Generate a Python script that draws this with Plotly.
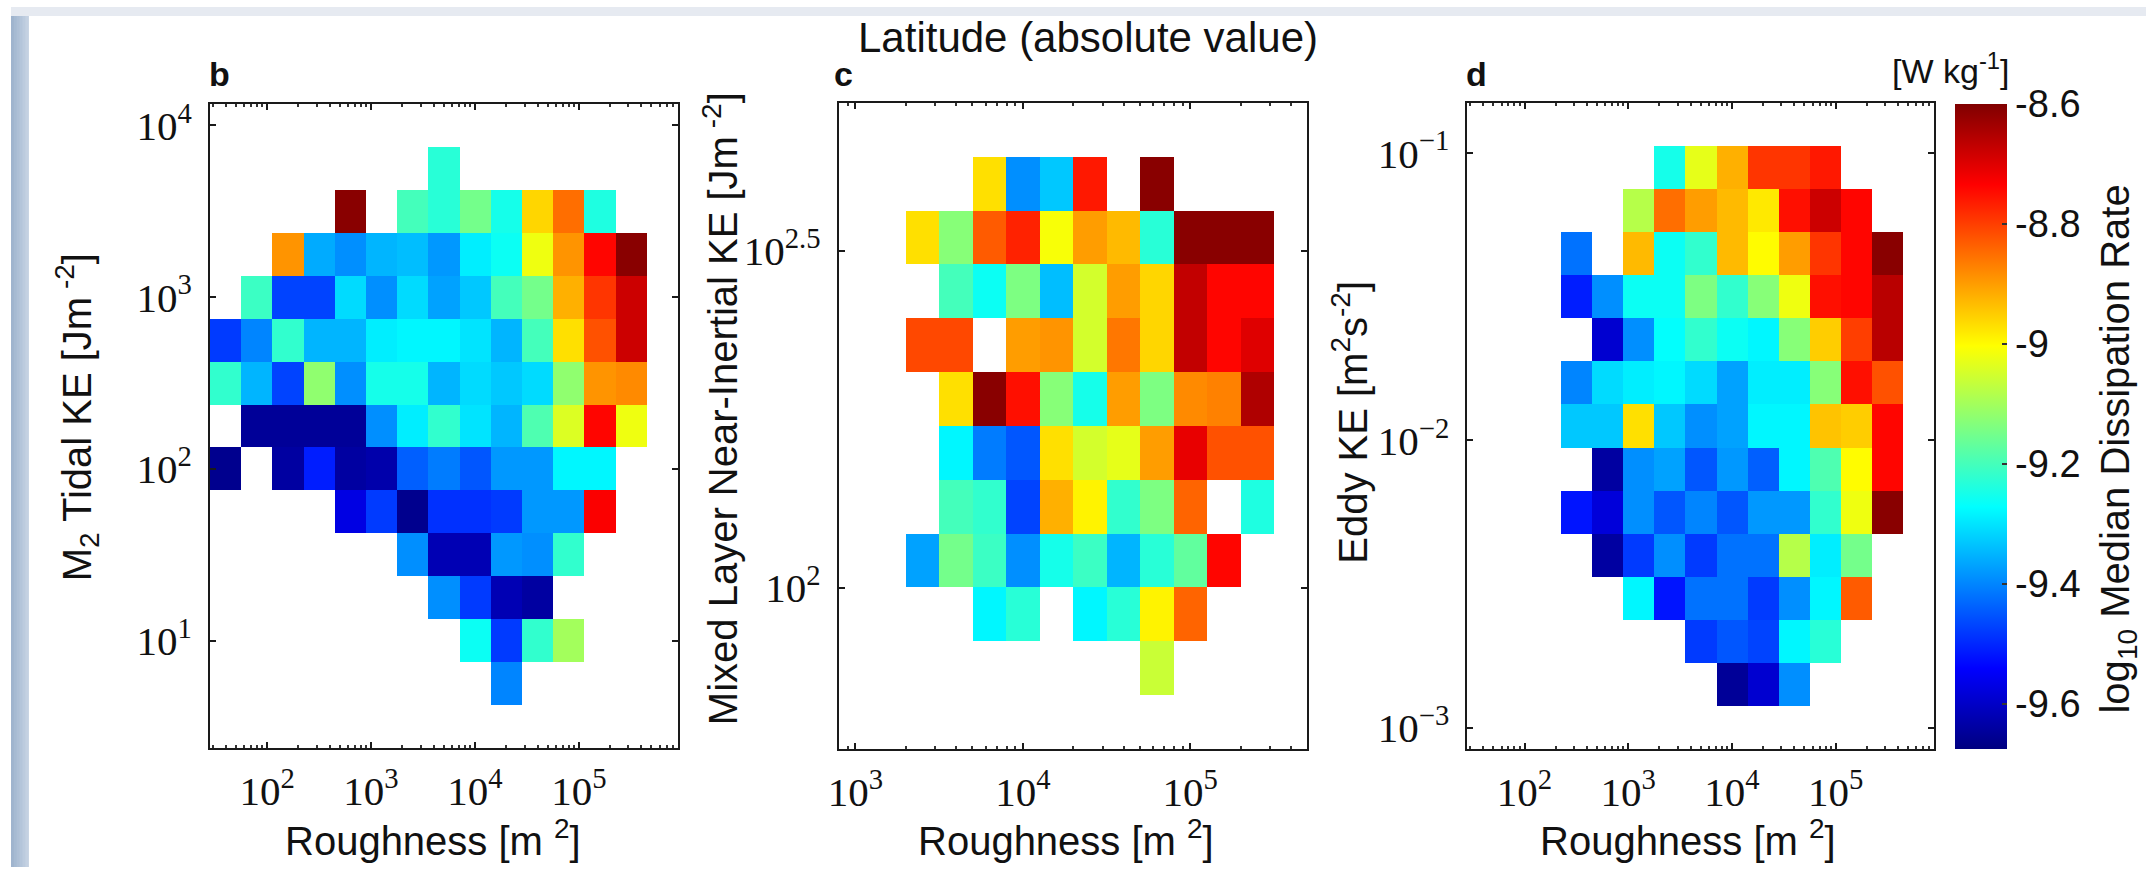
import plotly.graph_objects as go
import numpy as np

W, H = 2146, 869
N = None

# ---------------- data ----------------
# log10(roughness) bin centres (panels b and d)
rough_x = [1.6, 1.9, 2.2, 2.5, 2.8, 3.1, 3.4, 3.7, 4.0, 4.3, 4.6, 4.9, 5.2, 5.5, 5.8]
# log10(M2 tidal KE) bin centres, panel b (top -> bottom)
tidal_y = [4.0, 3.75, 3.5, 3.25, 3.0, 2.75, 2.5, 2.25, 2.0, 1.75, 1.5, 1.25, 1.0, 0.75, 0.5]
tidal_z = [
    [N, N, N, N, N, N, N, N, N, N, N, N, N, N, N],
    [N, N, N, N, N, N, N, -9.23, N, N, N, N, N, N, N],
    [N, N, N, N, -8.61, N, -9.20, -9.23, -9.15, -9.25, -8.96, -8.85, -9.24, N, N],
    [N, N, -8.89, -9.36, -9.39, -9.35, -9.34, -9.38, -9.29, -9.26, -9.02, -8.89, -8.74, -8.61, N],
    [N, -9.21, -9.47, -9.47, -9.31, -9.39, -9.31, -9.37, -9.33, -9.20, -9.15, -8.92, -8.79, -8.68, N],
    [-9.48, -9.40, -9.22, -9.35, -9.35, -9.29, -9.28, -9.28, -9.30, -9.35, -9.20, -8.97, -8.82, -8.68, N],
    [-9.22, -9.35, -9.47, -9.12, -9.39, -9.25, -9.25, -9.35, -9.31, -9.33, -9.31, -9.12, -8.89, -8.88, N],
    [N, -9.65, -9.65, -9.65, -9.65, -9.39, -9.29, -9.22, -9.30, -9.35, -9.19, -9.04, -8.74, -9.02, N],
    [-9.66, N, -9.64, -9.51, -9.64, -9.63, -9.44, -9.41, -9.45, -9.38, -9.38, -9.28, -9.28, N, N],
    [N, N, N, N, -9.57, -9.48, -9.66, -9.49, -9.49, -9.48, -9.38, -9.38, -8.73, N, N],
    [N, N, N, N, N, N, -9.39, -9.62, -9.62, -9.38, -9.39, -9.22, N, N, N],
    [N, N, N, N, N, N, N, -9.39, -9.48, -9.62, -9.64, N, N, N, N],
    [N, N, N, N, N, N, N, N, -9.26, -9.48, -9.22, -9.10, N, N, N],
    [N, N, N, N, N, N, N, N, N, -9.40, N, N, N, N, N],
    [N, N, N, N, N, N, N, N, N, N, N, N, N, N, N],
]

# panel c: log10(roughness) and log10(mixed layer near-inertial KE) bin centres
ni_x = [3.0, 3.2, 3.4, 3.6, 3.8, 4.0, 4.2, 4.4, 4.6, 4.8, 5.0, 5.2, 5.4, 5.6]
ni_y = [2.68, 2.60, 2.52, 2.44, 2.36, 2.28, 2.20, 2.12, 2.04, 1.96, 1.88, 1.80]
ni_z = [
    [N, N, N, N, N, N, N, N, N, N, N, N, N, N],
    [N, N, N, N, -8.97, -9.39, -9.33, -8.76, N, -8.61, N, N, N, N],
    [N, N, -8.97, -9.13, -8.83, -8.77, -9.01, -8.90, -8.93, -9.23, -8.61, -8.61, -8.61, N],
    [N, N, N, -9.20, -9.26, -9.14, -9.34, -9.05, -8.90, -8.96, -8.67, -8.74, -8.74, N],
    [N, N, -8.81, -8.81, N, -8.90, -8.89, -9.05, -8.86, -8.96, -8.67, -8.74, -8.70, N],
    [N, N, N, -8.97, -8.61, -8.75, -9.13, -9.25, -8.90, -9.14, -8.88, -8.87, -8.65, N],
    [N, N, N, -9.28, -9.41, -9.45, -8.97, -9.05, -9.03, -8.90, -8.71, -8.82, -8.82, N],
    [N, N, N, -9.20, -9.22, -9.47, -8.92, -8.99, -9.22, -9.14, -8.84, N, -9.24, N],
    [N, N, -9.37, -9.15, -9.21, -9.39, -9.25, -9.21, -9.35, -9.23, -9.17, -8.74, N, N],
    [N, N, N, N, -9.28, -9.23, N, -9.28, -9.23, -8.99, -8.84, N, N, N],
    [N, N, N, N, N, N, N, N, N, -9.06, N, N, N, N],
    [N, N, N, N, N, N, N, N, N, N, N, N, N, N],
]

# panel d: log10(eddy KE) bin centres (top -> bottom)
eddy_y = [-0.90, -1.05, -1.20, -1.35, -1.50, -1.65, -1.80, -1.95, -2.10, -2.25, -2.40, -2.55, -2.70, -2.85, -3.00]
eddy_z = [
    [N, N, N, N, N, N, N, N, N, N, N, N, N, N, N],
    [N, N, N, N, N, N, -9.25, -9.03, -8.92, -8.79, -8.79, -8.76, N, N, N],
    [N, N, N, N, N, -9.08, -8.85, -8.90, -8.93, -8.98, -8.75, -8.68, -8.74, N, N],
    [N, N, N, -9.42, N, -8.93, -9.26, -9.22, -8.93, -9.00, -8.90, -8.79, -8.74, -8.61, N],
    [N, N, N, -9.51, -9.39, -9.26, -9.26, -9.14, -9.22, -9.13, -9.02, -8.75, -8.74, -8.66, N],
    [N, N, N, N, -9.59, -9.39, -9.27, -9.22, -9.26, -9.28, -9.13, -8.95, -8.80, -8.66, N],
    [N, N, N, -9.40, -9.31, -9.29, -9.28, -9.31, -9.37, -9.29, -9.29, -9.13, -8.75, -8.82, N],
    [N, N, N, -9.33, -9.33, -8.97, -9.33, -9.39, -9.37, -9.28, -9.28, -8.94, -8.95, -8.74, N],
    [N, N, N, N, -9.64, -9.39, -9.37, -9.45, -9.38, -9.44, -9.28, -9.19, -9.00, -8.74, N],
    [N, N, N, -9.52, -9.58, -9.39, -9.45, -9.40, -9.45, -9.38, -9.38, -9.22, -9.02, -8.61, N],
    [N, N, N, N, -9.64, -9.48, -9.39, -9.48, -9.42, -9.42, -9.08, -9.29, -9.15, N, N],
    [N, N, N, N, N, -9.28, -9.52, -9.42, -9.42, -9.48, -9.39, -9.28, -8.83, N, N],
    [N, N, N, N, N, N, N, -9.48, -9.45, -9.47, -9.28, -9.23, N, N, N],
    [N, N, N, N, N, N, N, N, -9.65, -9.59, -9.39, N, N, N, N],
    [N, N, N, N, N, N, N, N, N, N, N, N, N, N, N],
]

cbar_vals = [-8.6, -8.8, -9.0, -9.2, -9.4, -9.6]
cbar_text = ["-8.6", "-8.8", "-9", "-9.2", "-9.4", "-9.6"]

# ---------------- styling ----------------
jet = [[0.0, "rgb(0,0,128)"], [0.125, "rgb(0,0,255)"], [0.375, "rgb(0,255,255)"],
       [0.625, "rgb(255,255,0)"], [0.875, "rgb(255,0,0)"], [1.0, "rgb(128,0,0)"]]

SANS = "Liberation Sans, Arial, Helvetica, sans-serif"
SERIF = "Liberation Serif, Times New Roman, serif"
INK = "#111111"


def xdom(a, b):
    return [a / W, b / W]


def ydom(top, bot):
    return [1 - bot / H, 1 - top / H]


def minor_vals(lo, hi):
    out = []
    for e in range(int(np.floor(lo)) - 1, int(np.ceil(hi)) + 1):
        for k in range(2, 10):
            v = e + np.log10(k)
            if lo < v < hi:
                out.append(v)
    return out


def sup(e):
    return "10<sup>%s</sup>" % e


axis_common = dict(showline=True, linecolor="#1a1a1a", linewidth=2, mirror="ticks",
                   ticks="inside", ticklen=6, tickwidth=2, tickcolor="#1a1a1a",
                   showgrid=False, zeroline=False, tickmode="array",
                   tickfont=dict(family=SERIF, size=41, color=INK), fixedrange=True)

fig = go.Figure()
fig.add_trace(go.Heatmap(x=rough_x, y=tidal_y, z=tidal_z, coloraxis="coloraxis",
                         xaxis="x", yaxis="y", hoverongaps=False))
fig.add_trace(go.Heatmap(x=ni_x, y=ni_y, z=ni_z, coloraxis="coloraxis",
                         xaxis="x2", yaxis="y2", hoverongaps=False))
fig.add_trace(go.Heatmap(x=rough_x, y=eddy_y, z=eddy_z, coloraxis="coloraxis",
                         xaxis="x3", yaxis="y3", hoverongaps=False))

xr_bd = [1.45, 5.95]
xr_c = [2.9, 5.7]

layout = dict(
    width=W, height=H, autosize=False,
    margin=dict(l=0, r=0, t=0, b=0),
    paper_bgcolor="white", plot_bgcolor="white",
    showlegend=False,
    xaxis=dict(axis_common, domain=xdom(200, 670), range=xr_bd, anchor="y",
               tickvals=[2, 3, 4, 5], ticktext=[sup(2), sup(3), sup(4), sup(5)],
               ticklabelstandoff=6,
               minor=dict(tickmode="array", tickvals=minor_vals(*xr_bd), ticks="inside",
                          ticklen=3, tickwidth=1.5, tickcolor="#333")),
    yaxis=dict(axis_common, domain=ydom(98, 749), range=[0.375, 4.125], anchor="x",
               tickvals=[1, 2, 3, 4], ticktext=[sup(1), sup(2), sup(3), sup(4)],
               ticklabelstandoff=8),
    xaxis2=dict(axis_common, domain=xdom(832, 1303), range=xr_c, anchor="y2",
                tickvals=[3, 4, 5], ticktext=[sup(3), sup(4), sup(5)],
                ticklabelstandoff=6,
                minor=dict(tickmode="array", tickvals=minor_vals(*xr_c), ticks="inside",
                           ticklen=3, tickwidth=1.5, tickcolor="#333")),
    yaxis2=dict(axis_common, domain=ydom(97, 750), range=[1.76, 2.72], anchor="x2",
                tickvals=[2, 2.5], ticktext=[sup(2), sup("2.5")],
                ticklabelstandoff=8),
    xaxis3=dict(axis_common, domain=xdom(1464, 1933), range=xr_bd, anchor="y3",
                tickvals=[2, 3, 4, 5], ticktext=[sup(2), sup(3), sup(4), sup(5)],
                ticklabelstandoff=6,
                minor=dict(tickmode="array", tickvals=minor_vals(*xr_bd), ticks="inside",
                           ticklen=3, tickwidth=1.5, tickcolor="#333")),
    yaxis3=dict(axis_common, domain=ydom(97, 750), range=[-3.075, -0.825], anchor="x3",
                tickvals=[-3, -2, -1], ticktext=[sup("\u22123"), sup("\u22122"), sup("\u22121")],
                ticklabelstandoff=8),
    coloraxis=dict(
        colorscale=jet, cmin=-9.675, cmax=-8.6,
        colorbar=dict(x=1954 / W, xanchor="left", y=1 - (98 + 750) / 2 / H, yanchor="middle",
                      lenmode="fraction", len=(750 - 98) / H,
                      thicknessmode="pixels", thickness=52, xpad=0, ypad=0,
                      outlinewidth=0, ticks="inside", ticklen=5, tickwidth=2, tickcolor="#333",
                      tickmode="array", tickvals=cbar_vals, ticktext=cbar_text,
                      tickfont=dict(family=SANS, size=38, color=INK)),
    ),
)
fig.update_layout(**layout)

# background frame bands (screenshot border)
TOPB = 9
shapes = [dict(type="rect", xref="paper", yref="paper", x0=0, x1=1, y0=1 - TOPB / H, y1=1,
               fillcolor="#e6eaf1", line=dict(width=0), layer="below")]
band_cols = ["#9fb4ce", "#a6bad2", "#adbfd6", "#b4c5da", "#bccbde", "#c4d1e2"]
for i, c in enumerate(band_cols):
    shapes.append(dict(type="rect", xref="paper", yref="paper",
                       x0=(i * 3) / W, x1=(i * 3 + 3) / W, y0=0, y1=1 - TOPB / H,
                       fillcolor=c, line=dict(width=0), layer="below"))
fig.update_layout(shapes=shapes)


def ann(text, x, y, size=40, family=SANS, angle=0, xanchor="center", yanchor="middle"):
    return dict(text=text, x=x / W, y=1 - y / H, xref="paper", yref="paper",
                showarrow=False, textangle=angle, xanchor=xanchor, yanchor=yanchor,
                font=dict(family=family, size=size, color=INK))


annotations = [
    ann("Latitude (absolute value)", 1083, 31, size=42),
    ann("<b>b</b>", 197, 68, size=34, xanchor="left"),
    ann("<b>c</b>", 825, 68, size=34, xanchor="left"),
    ann("<b>d</b>", 1460, 68, size=34, xanchor="left"),
    ann("M<sub>2</sub> Tidal KE [Jm<sup> -2</sup>]", 66, 415, angle=-90),
    ann("Mixed Layer Near-Inertial KE [Jm<sup> -2</sup>]", 713, 406, angle=-90),
    ann("Eddy KE [m<sup>2</sup>s<sup>-2</sup>]", 1346, 420, angle=-90),
    ann("Roughness [m <sup>2</sup>]", 424, 840),
    ann("Roughness [m <sup>2</sup>]", 1060, 840),
    ann("Roughness [m <sup>2</sup>]", 1686, 840),
    ann("[W kg<sup>-1</sup>]", 1950, 62, size=34),
    ann("log<sub>10</sub> Median Dissipation Rate", 2118, 447, angle=-90),
]
fig.update_layout(annotations=annotations)

fig.write_html("out.html")
